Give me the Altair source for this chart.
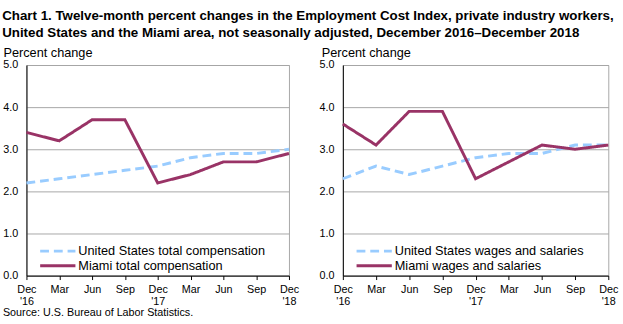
import json
import altair as alt
import pandas as pd

# ---- data ----
tick_labels = ["Dec|'16", "Mar", "Jun", "Sep", "Dec|'17", "Mar", "Jun", "Sep", "Dec|'18"]
us_total = [2.2, 2.3, 2.4, 2.5, 2.6, 2.8, 2.9, 2.9, 3.0]
miami_total = [3.4, 3.2, 3.7, 3.7, 2.2, 2.4, 2.7, 2.7, 2.9]
us_wages = [2.3, 2.6, 2.4, 2.6, 2.8, 2.9, 2.9, 3.1, 3.1]
miami_wages = [3.6, 3.1, 3.9, 3.9, 2.3, 2.7, 3.1, 3.0, 3.1]
series_left = ["United States total compensation", "Miami total compensation"]
series_right = ["United States wages and salaries", "Miami wages and salaries"]
colors = ["#99ccff", "#993366"]
dashes = [[9, 5], [1, 0]]
title_lines = [
    "Chart 1. Twelve-month percent changes in the Employment Cost Index, private industry workers,",
    "United States and the Miami area, not seasonally adjusted, December 2016\u2013December 2018",
]
y_title = "Percent change"
source_note = ["Source: U.S. Bureau of Labor Statistics."]

FONT = "Liberation Sans"
H = 215


def panel(us, mi, names, width, title_x, with_source):
    n = len(tick_labels)
    df = pd.DataFrame({
        "idx": list(range(n)) * 2,
        "value": us + mi,
        "series": [names[0]] * n + [names[1]] * n,
    })
    label_expr = f"split({json.dumps(tick_labels)}[datum.value], '|')"
    color = alt.Color("series:N", scale=alt.Scale(domain=names, range=colors), legend=None)
    dash = alt.StrokeDash("series:N", scale=alt.Scale(domain=names, range=dashes), legend=None)
    lines = alt.Chart(df).mark_line(strokeWidth=3).encode(
        x=alt.X("idx:Q",
                scale=alt.Scale(domain=[0, n - 1], nice=False, zero=False),
                axis=alt.Axis(values=list(range(n)), labelExpr=label_expr, title=None,
                              grid=False, domainColor="black", tickColor="black",
                              tickSize=4, labelFontSize=11, labelPadding=4,
                              labelLineHeight=12, labelColor="black", labelFont=FONT,
                              labelFlush=False, labelOverlap=False, labelBound=False)),
        y=alt.Y("value:Q",
                scale=alt.Scale(domain=[0, 5], nice=False),
                axis=alt.Axis(values=[0, 1, 2, 3, 4, 5], format=".1f", grid=True,
                              gridColor="#a6a6a6", domainColor="black", ticks=False,
                              labelPadding=9, labelFontSize=11, labelColor="black",
                              labelFont=FONT,
                              title=y_title, titleAngle=0, titleAlign="left",
                              titleBaseline="alphabetic", titleX=title_x, titleY=-9,
                              titleFontWeight="normal", titleFontSize=13,
                              titleFont=FONT, titleColor="black")),
        color=color,
        strokeDash=dash,
    )
    layers = [lines]
    ys = [190, 205]
    for i, name in enumerate(names):
        ldf = pd.DataFrame({"series": [name]})
        rule = alt.Chart(ldf).mark_rule(strokeWidth=3).encode(
            x=alt.value(14), x2=alt.value(50), y=alt.value(ys[i]),
            color=color, strokeDash=dash)
        txt = alt.Chart(ldf).mark_text(align="left", baseline="middle", fontSize=13,
                                       font=FONT, color="black").encode(
            x=alt.value(53), y=alt.value(ys[i]), text="series:N")
        layers += [rule, txt]
    if with_source:
        sdf = pd.DataFrame({"t": source_note})
        src = alt.Chart(sdf).mark_text(align="left", baseline="alphabetic", fontSize=11,
                                       font=FONT, color="black").encode(
            x=alt.value(-24), y=alt.value(256), text="t:N")
        layers.append(src)
    return alt.layer(*layers).properties(width=width, height=H)


left = panel(us_total, miami_total, series_left, 268, -24, True)
right = panel(us_wages, miami_wages, series_right, 271, -22, False)

chart = alt.hconcat(left, right, spacing=19).properties(
    title=alt.TitleParams(text=title_lines, anchor="start", font=FONT, fontSize=13.6,
                          fontWeight="bold", lineHeight=17, offset=7, color="black"),
    padding={"left": 2, "top": 5, "right": 4, "bottom": 2},
).configure_view(stroke="#a6a6a6", strokeWidth=1)

chart.save("out.html", embed_options={"renderer": "svg", "actions": False})
